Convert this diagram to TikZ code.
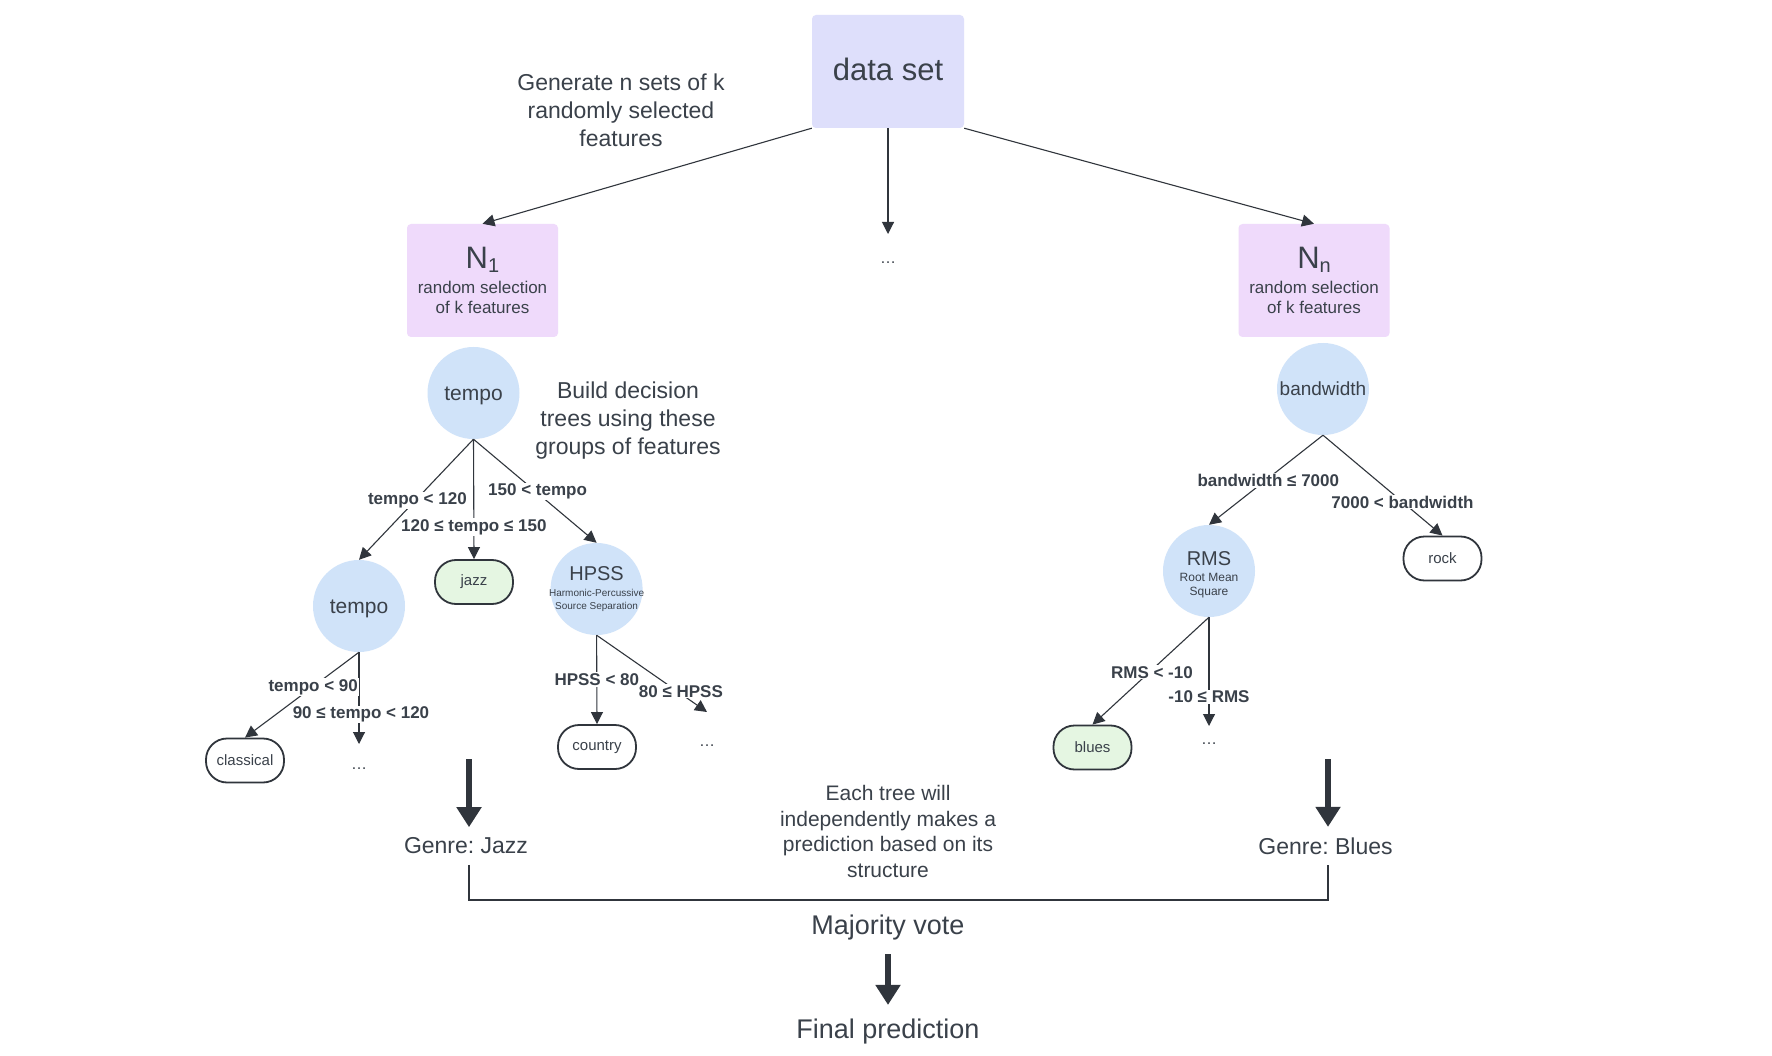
\documentclass[tikz,border=0pt]{standalone}
\usepackage{fontspec}
\setmainfont{Liberation Sans}
\usetikzlibrary{arrows.meta}
\definecolor{inkgray}{HTML}{3A414A}
\definecolor{inkdark}{HTML}{30353C}
\definecolor{setviolet}{HTML}{DEDFFB}
\definecolor{featpink}{HTML}{EFDAFB}
\definecolor{splitblue}{HTML}{D0E3F9}
\definecolor{leafgreen}{HTML}{E5F6E2}
\frenchspacing
\begin{document}
\begin{tikzpicture}[
  x=1pt, y=-1pt,
  setbox/.style={fill=setviolet, rounded corners=4pt, minimum width=152pt, minimum height=113pt, text=inkgray, font=\fontsize{31}{36}\selectfont},
  featbox/.style={fill=featpink, rounded corners=4pt, minimum width=151pt, minimum height=113pt, align=center, text=inkgray, font=\fontsize{17}{20.5}\selectfont},
  split/.style={circle, fill=splitblue, minimum size=92pt, inner sep=0pt, align=center, text=inkgray},
  leaf/.style={draw=inkdark, line width=1.8pt, rounded corners=21pt, minimum width=78pt, minimum height=44pt, text=inkgray, font=\fontsize{15}{18}\selectfont},
  hit/.style={leaf, fill=leafgreen},
  cond/.style={fill=white, inner sep=1pt, yshift=-2.5pt, text=inkgray, font=\fontsize{17}{20}\selectfont\bfseries},
  note/.style={align=center, text=inkgray},
  dots/.style={yshift=-4.5pt, text=inkgray, font=\fontsize{16}{18}\selectfont},
  edge/.style={draw=inkdark, line width=1.1pt, -{Triangle[length=12pt, width=12pt]}},
  bigarrow/.style={draw=inkdark, line width=6pt, -{Triangle[length=20pt, width=24pt]}}
]
\path[use as bounding box, fill=white] (0,0) rectangle (1772,1056);

\node[setbox] (data) at (888,71.5) {\raisebox{4pt}{data set}};
\node[note, font=\fontsize{23}{28}\selectfont] (gen) at (621,110) {Generate n sets of k\\randomly selected\\features};
\node[featbox] (n1) at (482.5,280.5) {{\fontsize{31}{31}\selectfont N\raisebox{-4pt}{\fontsize{20}{20}\selectfont 1}}\\[4.5pt]random selection\\of k features};
\node[featbox] (nn) at (1314,280.5) {{\fontsize{31}{31}\selectfont N\raisebox{-4pt}{\fontsize{20}{20}\selectfont n}}\\[4.5pt]random selection\\of k features};
\coordinate (gapmid) at (888,234);
\node[dots] (dotsmid) at (888,258) {…};

\draw[edge] (data.south west) -- (n1.north);
\draw[edge] (data.south) -- (gapmid);
\draw[edge] (data.south east) -- (nn.north);

\node[split, font=\fontsize{21}{24}\selectfont] (t1) at (473.5,393) {\rule{0pt}{20pt}tempo};
\node[note, font=\fontsize{23}{28}\selectfont] (build) at (628,420.5) {Build decision\\trees using these\\groups of features};
\node[split, font=\fontsize{21}{24}\selectfont] (t2) at (359,606) {\rule{0pt}{20pt}tempo};
\node[hit] (jazz) at (474,582) {jazz};
\node[split, inner sep=-6pt, font=\fontsize{10}{13}\selectfont] (hpss) at (596.6,589) {{\fontsize{20}{20}\selectfont HPSS}\\[2.5pt]Harmonic-Percussive\\Source Separation};
\node[leaf] (classical) at (245,760.5) {classical};
\coordinate (gapt2) at (359,744);
\node[dots] (dotst2) at (359,764) {…};
\node[leaf] (country) at (597,747) {country};
\coordinate (gaphpss) at (707,712);
\node[dots] (dotshpss) at (707,741) {…};

\draw[edge] (t1.south) -- node[cond, pos=.49] {tempo < 120} (t2.north);
\draw[edge] (t1.south) -- node[cond, pos=.71] {120 ≤ tempo ≤ 150} (jazz.north);
\draw[edge] (t1.south) -- node[cond, pos=.48, xshift=5pt] {150 < tempo} (hpss.north);
\draw[edge] (t2.south) -- node[cond, pos=.65, xshift=2pt] {90 ≤ tempo < 120} (gapt2);
\draw[edge] (t2.south) -- node[cond, pos=.38, xshift=-2.5pt] {tempo < 90} (classical.north);
\draw[edge] (hpss.south) -- node[cond, pos=.47] {HPSS < 80} (country.north);
\draw[edge] (hpss.south) -- node[cond, pos=.70, xshift=7pt] {80 ≤ HPSS} (gaphpss);

\node[split, font=\fontsize{19}{22}\selectfont] (bw) at (1323,389) {bandwidth};
\node[split, font=\fontsize{12}{14}\selectfont] (rms) at (1209,571) {{\fontsize{20}{20}\selectfont\rule{0pt}{21pt}RMS}\\[2pt]Root Mean\\Square};
\node[leaf] (rock) at (1442.5,558.5) {rock};
\node[hit] (blues) at (1092.5,747.5) {blues};
\coordinate (gaprms) at (1209,726);
\node[dots] (dotsrms) at (1209,739) {…};

\draw[edge] (bw.south) -- node[cond, pos=.48] {bandwidth ≤ 7000} (rms.north);
\draw[edge] (bw.south) -- node[cond, pos=.64, xshift=3pt] {7000 < bandwidth} (rock.north);
\draw[edge] (rms.south) -- node[cond, pos=.49] {RMS < -10} (blues.north);
\draw[edge] (rms.south) -- node[cond, pos=.71] {-10 ≤ RMS} (gaprms);

\coordinate (jazzout) at (469,759);
\coordinate (bluesout) at (1328,759);
\node[note, inner ysep=10.5pt, font=\fontsize{23}{28}\selectfont] (gjazz) at (466,846) {Genre: Jazz};
\node[note, inner ysep=10.5pt, font=\fontsize{23}{28}\selectfont] (gblues) at (1325.5,846) {Genre: Blues};
\node[note, font=\fontsize{21}{25.7}\selectfont] (each) at (888,831.5) {Each tree will\\independently makes a\\prediction based on its\\structure};
\node[note, inner ysep=14pt, font=\fontsize{27}{32}\selectfont] (vote) at (888,927.7) {Majority vote};
\node[note, inner ysep=14pt, font=\fontsize{27}{32}\selectfont] (final) at (888,1031.7) {Final prediction};

\draw[bigarrow] (jazzout) -- (jazzout |- gjazz.north);
\draw[bigarrow] (bluesout) -- (bluesout |- gblues.north);
\draw[draw=inkdark, line width=2pt] (jazzout |- gjazz.south) -- ++(0,35) -| (bluesout |- gblues.south);
\draw[bigarrow] (vote) -- (final);
\end{tikzpicture}
\end{document}
